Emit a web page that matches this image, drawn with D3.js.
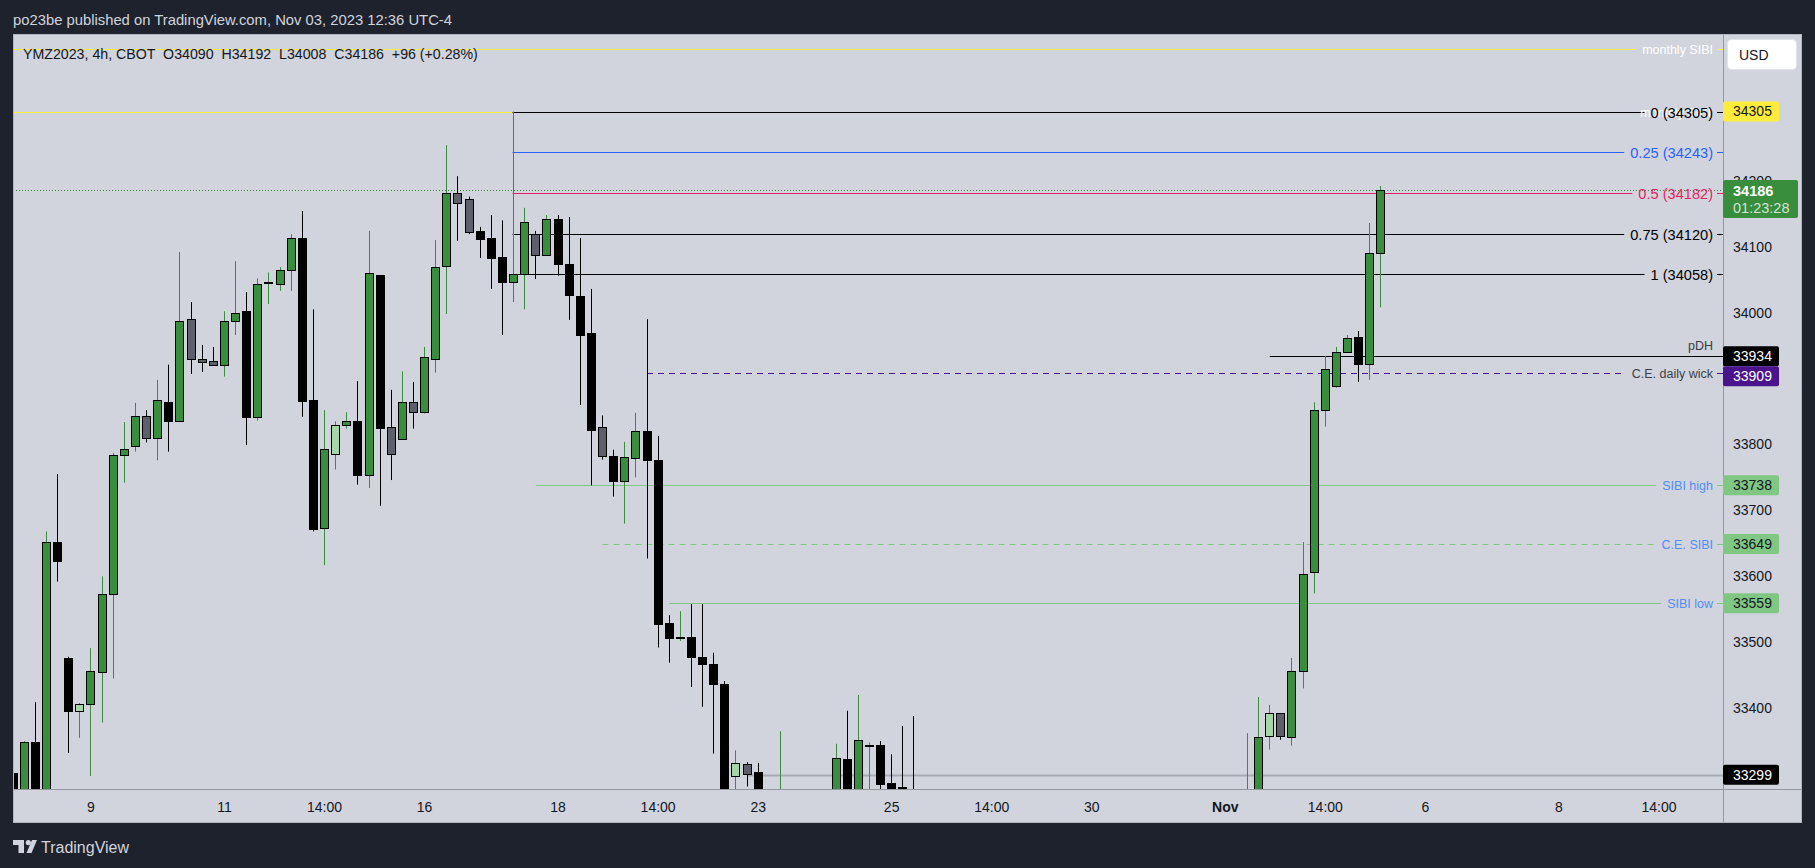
<!DOCTYPE html>
<html><head><meta charset="utf-8">
<script src="https://cdn.jsdelivr.net/npm/d3@7/dist/d3.min.js"></script>
<style>html,body{margin:0;padding:0;background:#1e222d;overflow:hidden}</style>
</head><body>
<svg id="c" width="1815" height="868"></svg>
<script>
// ---------------- DATA ----------------
const barIdx = [-7,-6,-5,-4,-3,-2,-1,0,1,2, 3,4,5,6,7,8,9,10,11,12, 13,14,15,16,17,18,19,20,21,22,
  23,24,25,26,27,28,29,30,31,32, 33,34,35,36,37,38,39,40,41,42, 43,44,45,46,47,48,49,50,51,52,
  53,54,55,56,57,58,59,60, 62,67,68,69,70,71,72,73,74,
  104,105,106,107,108,109,110,111,112,113,114,115,116];
const opens = [33301,33250,33348,33260,33652,33476,33395,33407,33455,33573,
  33784,33798,33843,33810,33864,33835,33990,33929,33926,33920,
  33988,34002,33841,34046,34044,34064,34113,33867,33673,33785,
  33829,33835,33754,34057,33826,33809,33864,33850,33930,34070,
  34182,34173,34124,34113,34084,34046,34059,34120,34088,34142,
  34074,34025,33969,33827,33782,33745,33779,33820,33776,33529,
  33508,33508,33477,33467,33436,33297,33315,33303,
  33200,33250,33323,33255,33344,33344,33287,33281,33260,
  33200,33250,33357,33392,33356,33457,33606,33853,33888,33941,33963,33922,34090];
const highs = [33305,33350,33409,33668,33755,33478,33408,33491,33600,33787,
  33834,33863,33852,33898,33921,34092,34016,33951,33948,34002,
  34078,34031,34052,34061,34069,34119,34154,34005,33852,33835,
  33849,33896,34124,34057,33883,33911,33895,33948,34110,34254,
  34207,34176,34130,34148,34140,34305,34159,34124,34148,34148,
  34145,34113,34036,33844,33792,33804,33848,33990,33813,33541,
  33547,33558,33558,33484,33441,33336,33318,33317,
  33365,33346,33396,33420,33348,33350,33330,33373,33388,
  33362,33417,33405,33392,33476,33652,33864,33934,33948,33966,33972,34136,34192];
const lows = [33220,33230,33230,33250,33592,33332,33355,33297,33378,33445,
  33742,33789,33803,33776,33789,33834,33907,33910,33919,33903,
  33966,33799,33836,34013,34033,34033,33842,33668,33617,33762,
  33824,33739,33734,33707,33746,33809,33824,33847,33909,33998,
  34109,34119,34083,34036,33966,34016,34005,34051,34088,34056,
  33989,33860,33738,33777,33721,33680,33750,33627,33492,33469,
  33502,33432,33402,33331,33230,33250,33281,33230,
  33180,33230,33230,33240,33240,33250,33240,33250,33220,
  33180,33240,33337,33352,33343,33430,33574,33827,33886,33941,33895,33898,34008];
const closes = [33240,33348,33250,33652,33623,33395,33407,33456,33573,33784,
  33793,33843,33810,33867,33835,33988,33930,33925,33920,33987,
  34000,33841,34044,34046,34064,34113,33866,33671,33793,33829,
  33835,33754,34060,33825,33785,33864,33850,33932,34069,34182,
  34167,34123,34112,34083,34047,34058,34138,34088,34142,34074,
  34026,33966,33822,33782,33745,33781,33820,33777,33528,33507,
  33508,33478,33467,33436,33250,33317,33300,33250,
  33265,33324,33250,33352,33344,33285,33260,33279,33240,
  33260,33356,33392,33357,33457,33603,33852,33914,33941,33961,33922,34090,34186];
const tones = ['k','g','k','g','k','k','lg','g','g','g',
  'g','g','gr','g','k','g','gr','gr','gr','g',
  'g','k','g','g','g','g','k','k','g','lg',
  'g','k','g','k','gr','g','gr','g','g','g',
  'gr','gr','k','k','k','g','g','gr','g','k',
  'k','k','k','gr','k','g','g','k','k','k',
  'g','k','k','k','k','lg','gr','k',
  'g','g','k','g','g','k','k','k','k',
  'g','g','lg','gr','g','g','g','g','g','g','k','g','g'];

const timeTickIdx = [0,12,21,30,42,51,60,72,81,90,102,111,120,132,141];
const timeTickLabels = ['9','11','14:00','16','18','14:00','23','25','14:00','30','Nov','14:00','6','8','14:00'];
const priceTicks = [33400,33500,33600,33700,33800,34000,34100,34200];

const fibRatios = ['0','0.25','0.5','0.75','1'];
const fibPrices = [34305,34243,34182,34120,34058];
const fibStartIdx = 38;

const levelNames = ['pDH','C.E. daily wick','SIBI high','C.E. SIBI','SIBI low'];
const levelPrices = [33934,33909,33738,33649,33559];
const levelStartIdx = [106,50,40,46,52];

const monthlySibiPrice = 34400;
const monthlySibiLowPrice = 34305;
const monthlySibiLowEndIdx = 38;
const supportPrice = 33299;
const supportStartIdx = 59;
const lastPrice = 34186;
const countdown = '01:23:28';

const headerText = 'po23be published on TradingView.com, Nov 03, 2023 12:36 UTC-4';
const legendText = 'YMZ2023, 4h, CBOT  O34090  H34192  L34008  C34186  +96 (+0.28%)';

// ---------------- LAYOUT / STYLE ----------------
const W = 1815, H = 868;
const PL = 13, PR = 1723, PT = 34, PB = 789, AXR = 1802, AXB = 823;
const FONT = "'Liberation Sans', Arial, Helvetica, sans-serif";
const C = {
  dark:'#1e222d', panel:'#d1d4dc', border:'#9598a1', text:'#131722',
  green:'#388e3c', lightGreen:'#a5d6a7', gray:'#5d606b', black:'#000000',
  yellow:'#ffeb3b', blue:'#2962ff', red:'#e91e63', sibi:'#81c784',
  sibiText:'#4f8ef7', purple:'#4a148c', labelDark:'#3b3e47', support:'#a9abb3'
};
const fibColors = [C.black, C.blue, C.red, C.black, C.black];
const levelStyles = [
  {color:C.black, dash:null, text:C.labelDark, above:true},
  {color:C.purple, dash:'6,5', text:C.labelDark},
  {color:C.sibi, dash:null, text:C.sibiText},
  {color:C.sibi, dash:'6,5', text:C.sibiText},
  {color:C.sibi, dash:null, text:C.sibiText}
];

const x = d3.scaleLinear().domain([-7.014, 146.76]).range([PL, PR]);
const y = d3.scaleLinear().domain([33277.3, 34422.7]).range([PB, PT]);

const svg = d3.select('#c');
svg.append('rect').attr('width', W).attr('height', H).attr('fill', C.dark);
svg.append('rect').attr('x', PL).attr('y', PT).attr('width', AXR - PL).attr('height', AXB - PT).attr('fill', C.panel);

const defs = svg.append('defs');
defs.append('clipPath').attr('id', 'clip').append('rect')
  .attr('x', PL).attr('y', PT).attr('width', PR - PL).attr('height', PB - PT);

function txt(g, tx, ty, s, o = {}) {
  return g.append('text').attr('x', tx).attr('y', ty).attr('dy', '0.35em')
    .attr('font-family', FONT).attr('font-size', o.size || 14)
    .attr('font-weight', o.weight || 'normal')
    .attr('fill', o.fill || C.text).attr('text-anchor', o.anchor || 'start')
    .style('white-space', 'pre').text(s);
}
const cy = p => Math.round(y(p)) + 0.5;

// header
txt(svg, 13, 20, headerText, {fill:'#d1d4dc', size:14.8});

const gLines = svg.append('g').attr('clip-path', 'url(#clip)');
const gCandles = svg.append('g').attr('clip-path', 'url(#clip)');
const gLabels = svg.append('g');

const LABEL_R = 1713;
function hLine(price, x1, x2, color, width, dash) {
  const l = gLines.append('line').attr('x1', x1).attr('x2', x2)
    .attr('y1', cy(price)).attr('y2', cy(price))
    .attr('stroke', color).attr('stroke-width', width || 1);
  if (dash) l.attr('stroke-dasharray', dash);
  return l;
}
function labeledLine(price, x1, color, dash, label, labelColor, size, above) {
  if (above) {
    hLine(price, x1, PR, color, 1, dash);
    txt(gLabels, LABEL_R, cy(price) - 11, label, {anchor:'end', fill:labelColor, size});
    return;
  }
  const t = txt(gLabels, LABEL_R, cy(price), label, {anchor:'end', fill:labelColor, size});
  const w = t.node().getComputedTextLength();
  hLine(price, x1, LABEL_R - w - 6, color, 1, dash);
  hLine(price, LABEL_R + 4, PR, color, 1, null);
}

// monthly SIBI
labeledLine(monthlySibiPrice, PL, C.yellow, null, 'monthly SIBI', '#ffffff', 12.5);
hLine(monthlySibiLowPrice, PL, x(monthlySibiLowEndIdx), C.yellow, 1);
txt(gLabels, LABEL_R - 2, cy(monthlySibiLowPrice), 'monthly SIBI', {anchor:'end', fill:'#ffffff', size:12.5});

// current price dotted
hLine(lastPrice, PL, PR, C.green, 1, '1,2');

// fib
fibPrices.forEach((p, k) => {
  labeledLine(p, x(fibStartIdx) - 1, fibColors[k], null, `${fibRatios[k]} (${p})`, fibColors[k], 14.6);
});

// levels
levelPrices.forEach((p, k) => {
  const s = levelStyles[k];
  labeledLine(p, x(levelStartIdx[k]), s.color, s.dash, levelNames[k], s.text, 12.5, s.above);
});

// support gray
hLine(supportPrice, x(supportStartIdx), PR, C.support, 2);

// candles
const fillOf = {g:C.green, k:C.black, gr:C.gray, lg:C.lightGreen};
const wickOf = {g:C.green, k:C.black, gr:C.black, lg:C.green};
barIdx.forEach((bi, k) => {
  const cx = Math.floor(x(bi)) + 0.5;
  const tone = tones[k];
  gCandles.append('line').attr('x1', cx).attr('x2', cx)
    .attr('y1', y(highs[k])).attr('y2', y(lows[k]))
    .attr('stroke', wickOf[tone]).attr('stroke-width', 1);
  const yo = Math.round(y(opens[k])), yc = Math.round(y(closes[k]));
  const top = Math.min(yo, yc), h = Math.max(1, Math.abs(yo - yc));
  gCandles.append('rect').attr('x', cx - 4).attr('width', 8)
    .attr('y', top + 0.5).attr('height', h)
    .attr('fill', fillOf[tone]).attr('stroke', C.black).attr('stroke-width', 1);
});

// legend
txt(svg, 23, 54, legendText, {size:14.2});

// axes frame
svg.append('line').attr('x1', PR + 0.5).attr('x2', PR + 0.5).attr('y1', PT).attr('y2', AXB).attr('stroke', C.border);
svg.append('line').attr('x1', PL).attr('x2', AXR).attr('y1', PB + 0.5).attr('y2', PB + 0.5).attr('stroke', C.border);
svg.append('rect').attr('x', PL + 0.5).attr('y', PT + 0.5).attr('width', AXR - PL - 1).attr('height', AXB - PT - 1)
  .attr('fill', 'none').attr('stroke', '#b2b5be');

// time axis
const gT = svg.append('g');
timeTickIdx.forEach((ti, k) => {
  txt(gT, x(ti), 807, timeTickLabels[k], {anchor:'middle', size:14, weight: timeTickLabels[k] === 'Nov' ? 'bold' : 'normal'});
});

// price axis ticks
const gP = svg.append('g');
priceTicks.forEach(p => txt(gP, 1733, y(p), String(p), {size:14}));

// price boxes
const boxes = [
  {p:monthlySibiLowPrice, bg:C.yellow, fg:C.text},
  {p:lastPrice, bg:C.green, fg:'#ffffff', sub:countdown, w:75, h:38, off:10},
  {p:levelPrices[0], bg:C.black, fg:'#ffffff'},
  {p:levelPrices[1], bg:C.purple, fg:'#ffffff'},
  {p:levelPrices[2], bg:C.sibi, fg:C.text},
  {p:levelPrices[3], bg:C.sibi, fg:C.text},
  {p:levelPrices[4], bg:C.sibi, fg:C.text},
  {p:supportPrice, bg:C.black, fg:'#ffffff'}
];
let prevBottom = -1e9;
boxes.forEach(b => {
  const h = b.h || 20, w = b.w || 56;
  let top = y(b.p) - (b.off !== undefined ? b.off : h / 2);
  if (top < prevBottom) top = prevBottom;
  prevBottom = top + h;
  gP.append('rect').attr('x', PR).attr('y', top).attr('width', w).attr('height', h).attr('rx', 2).attr('fill', b.bg);
  if (b.sub) {
    txt(gP, 1733, top + 11, String(b.p), {fill:b.fg, size:14.5, weight:'bold'});
    txt(gP, 1733, top + 28, b.sub, {fill:'rgba(255,255,255,0.78)', size:14.5});
  } else {
    txt(gP, 1733, top + h / 2, String(b.p), {fill:b.fg, size:14});
  }
});

// USD box
gP.append('rect').attr('x', 1727.5).attr('y', 39.5).attr('width', 69).attr('height', 30).attr('rx', 4)
  .attr('fill', '#ffffff').attr('stroke', '#e0e3eb');
txt(gP, 1739, 55, 'USD', {size:14});

// TradingView logo
const gL = svg.append('g').attr('fill', '#d1d4dc');
gL.append('path').attr('d', 'M13,840 H24 V853 H18.5 V845 H13 Z');
gL.append('circle').attr('cx', 28.3).attr('cy', 842.6).attr('r', 2.6);
gL.append('path').attr('d', 'M32,840 H37 L31.5,853 H26.5 Z');
txt(svg, 41, 847, 'TradingView', {fill:'#d1d4dc', size:16});
</script>
</body></html>
